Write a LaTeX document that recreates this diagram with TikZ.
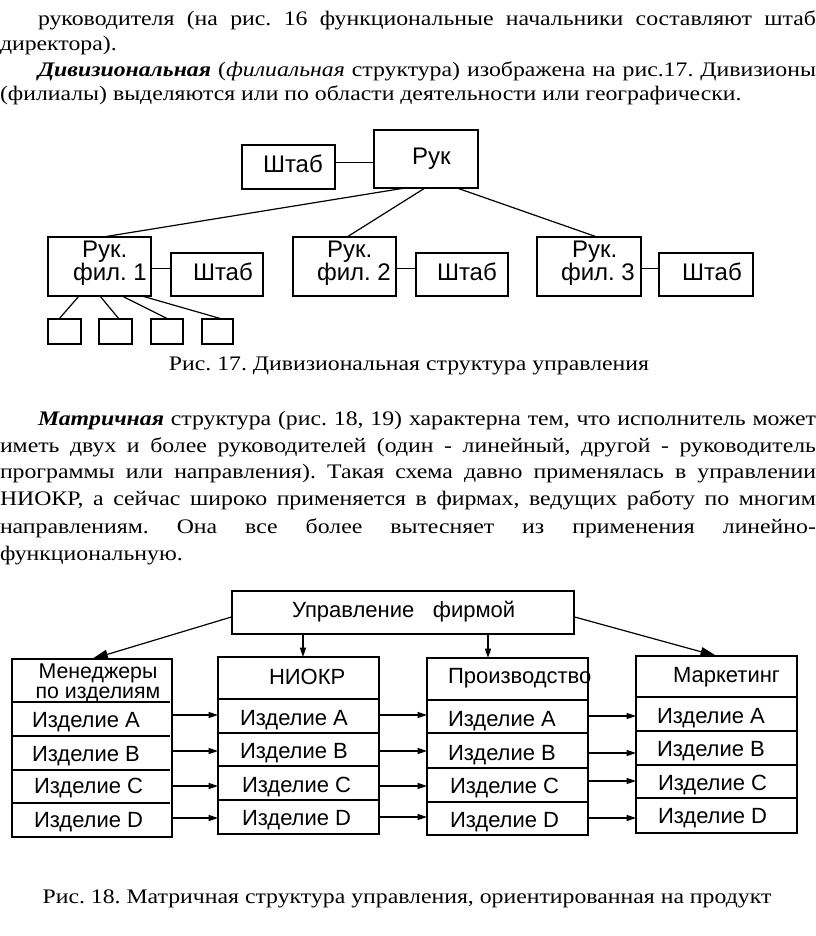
\documentclass[tikz,border=0pt]{standalone}
\usepackage{fontspec}
\setmainfont{Liberation Serif}[FakeStretch=1.15]
\newfontfamily\arialf{Liberation Sans}
\usetikzlibrary{arrows.meta,calc}
\newcommand\bx[5]{\node[box, minimum width={(#4-#2)*0.75pt}, minimum height={(#5-#3)*0.75pt}] (#1) at (#2,#3) {};}
\frenchspacing
\begin{document}
\begin{tikzpicture}[x=0.75pt,y=-0.75pt,
 box/.style={draw, line width=0.9pt, inner sep=0pt, outer sep=0pt, anchor=north west},
 txt/.style={inner sep=0pt, outer sep=0pt, anchor=base west},
 body/.style={txt, font=\fontsize{15.5}{18}\selectfont},
 captxt/.style={body, anchor=base},
 lab/.style={txt, font=\arialf\fontsize{18}{20}\selectfont},
 lab2/.style={txt, font=\arialf\fontsize{16.5}{18}\selectfont},
 ln/.style={line width=0.9pt},
 arr/.style={ln, -{Triangle[length=7pt,width=4.5pt]}},
 bigarr/.style={ln, -{Triangle[length=12pt,width=7pt]}}
]
\useasboundingbox[fill=white] (0,0) rectangle (816,936);

% ---------- body text, part 1
\node[body] (p1a) at (38,25) {\makebox[583.5pt][s]{руководителя (на рис. 16 функциональные начальники составляют штаб}};
\node[body] (p1b) at (0,50) {директора).};
\node[body] (p1c) at (38,76) {\makebox[583.5pt][s]{\textbf{\textit{Дивизиональная}} (\textit{филиальная} структура) изображена на рис.17. Дивизионы}};
\node[body] (p1d) at (0,100) {(филиалы) выделяются или по области деятельности или географически.};

% ---------- figure 17
\bx{ruk}{374}{130}{478}{188}
\bx{sh0}{242}{145}{335}{189}
\bx{f1}{48}{237}{151}{296}
\bx{s1}{171}{253}{263}{296}
\bx{f2}{293}{237}{396}{296}
\bx{s2}{416}{253}{508}{296}
\bx{f3}{537}{237}{641}{296}
\bx{s3}{659}{253}{753}{296}
\bx{q1}{48}{319}{81}{344}
\bx{q2}{99}{319}{132}{344}
\bx{q3}{151}{319}{183}{344}
\bx{q4}{202}{319}{233}{344}

\node[lab] (truk) at (412,164) {Рук};
\node[lab] (tsh0) at (263,172) {Штаб};
\node[lab] (tf1a) at (82,257) {Рук.};
\node[lab] (tf1b) at (73,280) {фил. 1};
\node[lab] (ts1) at (193,280) {Штаб};
\node[lab] (tf2a) at (327,257) {Рук.};
\node[lab] (tf2b) at (317,280) {фил. 2};
\node[lab] (ts2) at (437,280) {Штаб};
\node[lab] (tf3a) at (572,257) {Рук.};
\node[lab] (tf3b) at (561,280) {фил. 3};
\node[lab] (ts3) at (682,280) {Штаб};

\path (sh0.north east) -- (sh0.south east) coordinate[pos=0.39] (c0);
\draw[ln] (c0) -- (c0 -| ruk.west);
\draw[ln] ($(ruk.south)+(-21,0)$) -- ($(f1.north)+(3.5,0)$);
\draw[ln] ($(ruk.south)+(-1,0)$) -- ($(f2.north)+(2.5,0)$);
\draw[ln] ($(ruk.south)+(31,0)$) -- ($(f3.north)+(8,0)$);
\path (f1.north east) -- (f1.south east) coordinate[pos=0.54] (c1);
\draw[ln] (c1) -- (c1 -| s1.west);
\path (f2.north east) -- (f2.south east) coordinate[pos=0.54] (c2);
\draw[ln] (c2) -- (c2 -| s2.west);
\path (f3.north east) -- (f3.south east) coordinate[pos=0.54] (c3);
\draw[ln] (c3) -- (c3 -| s3.west);
\draw[ln] ($(f1.south)+(-20.5,0)$) -- ($(q1.north)+(-5.5,0)$);
\draw[ln] ($(f1.south)+(0.5,0)$) -- ($(q2.north)+(3.5,0)$);
\draw[ln] ($(f1.south)+(22.5,0)$) -- ($(q3.north)+(1,0)$);
\draw[ln] ($(f1.south)+(42.5,0)$) -- ($(q4.north)+(4.5,0)$);

\node[captxt] (cap17) at (409,370) {Рис. 17. Дивизиональная структура управления};

% ---------- body text, part 2
\node[body] (p2a) at (38,425) {\makebox[583.5pt][s]{\textbf{\textit{Матричная}} структура (рис. 18, 19) характерна тем, что исполнитель может}};
\node[body] (p2b) at (0,452) {\makebox[612pt][s]{иметь двух и более руководителей (один - линейный, другой - руководитель}};
\node[body] (p2c) at (0,478) {\makebox[612pt][s]{программы или направления). Такая схема давно применялась в управлении}};
\node[body] (p2d) at (0,505) {\makebox[612pt][s]{НИОКР, а сейчас широко применяется в фирмах, ведущих работу по многим}};
\node[body] (p2e) at (0,533) {\makebox[612pt][s]{направлениям. Она все более вытесняет из применения линейно-}};
\node[body] (p2f) at (0,560) {функциональную.};

% ---------- figure 18
\bx{upr}{232}{591}{574}{634}
\bx{m}{12}{659}{172}{837}
\bx{n}{218}{657}{379}{834}
\bx{p}{427}{658}{588}{835}
\bx{k}{636}{656}{797}{833}

\foreach \yy in {702,736,770,803} \draw[ln] (12,\yy) -- (170,\yy);
\foreach \yy in {699,733,766,800} \draw[ln] (218,\yy) -- (379,\yy);
\foreach \yy in {700,733,768,802} \draw[ln] (427,\yy) -- (588,\yy);
\foreach \yy in {697,731,765,798} \draw[ln] (636,\yy) -- (797,\yy);

\node[lab2] (tupr) at (292,617) {Управление\hspace{14pt}фирмой};
\node[lab2, anchor=center, align=center, font=\arialf\fontsize{16}{15}\selectfont] (tm) at (98,683) {Менеджеры\\по изделиям};
\node[lab2] (tn) at (269,684) {НИОКР};
\node[lab2] (tp) at (448,683) {Производство};
\node[lab2] (tk) at (673,682) {Маркетинг};

\node[lab2] (mA) at (32,727) {Изделие A};
\node[lab2] (mB) at (32,761) {Изделие B};
\node[lab2] (mC) at (34,793) {Изделие C};
\node[lab2] (mD) at (34,827) {Изделие D};
\node[lab2] (nA) at (240,725) {Изделие A};
\node[lab2] (nB) at (240,758) {Изделие B};
\node[lab2] (nC) at (242,792) {Изделие C};
\node[lab2] (nD) at (242,825) {Изделие D};
\node[lab2] (pA) at (448,726) {Изделие A};
\node[lab2] (pB) at (448,760) {Изделие B};
\node[lab2] (pC) at (450,793) {Изделие C};
\node[lab2] (pD) at (450,827) {Изделие D};
\node[lab2] (kA) at (657,723) {Изделие A};
\node[lab2] (kB) at (657,756) {Изделие B};
\node[lab2] (kC) at (658,790) {Изделие C};
\node[lab2] (kD) at (658,823) {Изделие D};

\path (upr.north west) -- (upr.south west) coordinate[pos=0.6] (u1);
\draw[bigarr] (u1) -- (m.north);
\coordinate (a2) at ($(n.north)+(4.5,0)$);
\draw[arr] (upr.south -| a2) -- (a2);
\coordinate (a3) at ($(p.north)+(-19.5,0)$);
\draw[arr] (upr.south -| a3) -- (a3);
\path (upr.north east) -- (upr.south east) coordinate[pos=0.6] (u4);
\draw[bigarr] (u4) -- (k.north);

\coordinate (r1) at (0,715); \coordinate (r2) at (0,751);
\coordinate (r3) at (0,786); \coordinate (r4) at (0,818);
\coordinate (s1r) at (0,715); \coordinate (s2r) at (0,751);
\coordinate (s3r) at (0,786); \coordinate (s4r) at (0,817);
\coordinate (t1r) at (0,716); \coordinate (t2r) at (0,753);
\coordinate (t3r) at (0,781); \coordinate (t4r) at (0,818);
\foreach \c in {r1,r2,r3,r4} \draw[arr] (m.east |- \c) -- (n.west |- \c);
\foreach \c in {s1r,s2r,s3r,s4r} \draw[arr] (n.east |- \c) -- (p.west |- \c);
\foreach \c in {t1r,t2r,t3r,t4r} \draw[arr] (p.east |- \c) -- (k.west |- \c);

\node[captxt] (cap18) at (407,903) {Рис. 18. Матричная структура управления, ориентированная на продукт};
\end{tikzpicture}
\end{document}
